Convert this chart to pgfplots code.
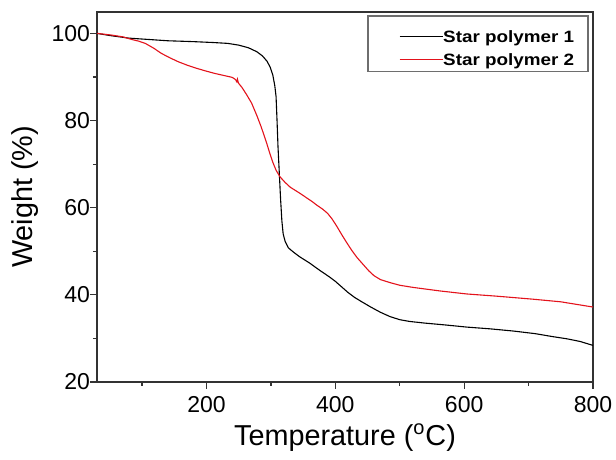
\documentclass[border=0pt]{standalone}
\usepackage{fontspec}
\setmainfont{Liberation Sans}
\newfontfamily\legfont[FakeStretch=1.15]{Liberation Sans}
\usepackage{pgfplots}
\pgfplotsset{compat=1.18}
\usepackage{pgfplotstable}

\definecolor{tgaRed}  {HTML}{E3121B}
\definecolor{tgaAxis} {HTML}{333333}
\definecolor{tgaFrame}{HTML}{6E6E6E}

% TGA curves: temperature (C), weight (%)
\pgfplotstableread{
T W
30 100
50 99.5
80 98.9
110 98.6
140 98.3
180 98.1
210 97.9
233 97.7
250 97.3
265 96.7
278 95.8
287 94.8
294 93.6
299 92.2
303 90.4
306 88.0
308 85.5
309.5 80
311 74
313 68
315 62
317 57
319 54
322 52.3
327 50.8
335 49.8
345 48.7
360 47.3
376 45.6
390 44.2
400 43.1
410 41.8
420 40.5
430 39.4
440 38.5
455 37.2
470 36.0
485 35.0
500 34.3
515 33.9
540 33.5
570 33.1
604 32.6
640 32.2
676 31.7
710 31.1
738 30.4
760 29.9
780 29.3
800 28.4
}\starone

\pgfplotstableread{
T W
30 100
53 99.6
70 99.2
84 98.6
95 98.2
105 97.7
118 96.6
130 95.4
143 94.4
156 93.5
170 92.7
182 92.1
198 91.4
213 90.8
228 90.3
240 89.9
245 89.4
247 88.9
248 89.5
249.5 88.6
255 87.6
262 86.0
270 84.0
278 81.2
285 78.5
293 75.0
298 72.6
303 70.4
308 68.6
314 67.1
322 65.8
330 64.7
345 63.3
356 62.2
364 61.4
372 60.5
380 59.7
388 58.7
395 57.4
402 55.8
410 53.8
418 51.9
426 50.1
434 48.5
443 47.0
452 45.5
460 44.4
470 43.5
485 42.8
500 42.2
521 41.7
562 40.9
604 40.2
650 39.7
707 39.0
750 38.4
800 37.2
}\startwo

\begin{document}
\begin{tikzpicture}
\path[use as bounding box] (-48.5pt,-39pt) rectangle (259.5pt,191pt);
\begin{axis}[
  scale only axis, width=248pt, height=185pt,
  xmin=30, xmax=800, ymin=20, ymax=104.9,
  xtick={200,400,600,800}, minor xtick={100,300,500,700},
  ytick={20,40,60,80,100}, minor ytick={30,50,70,90},
  xtick pos=bottom, ytick pos=left, tick align=outside,
  major tick length=3.5pt, minor tick length=2pt,
  axis line style={tgaAxis,line width=0.6pt},
  tick style={tgaAxis,line width=0.6pt},
  /pgf/number format/assume math mode=true,
  tick label style={font=\fontsize{11.5}{13}\selectfont},
  yticklabel style={xshift=3.5pt},
  label style={font=\fontsize{14.4}{17}\selectfont},
  xlabel={Temperature (\textsuperscript{o}C)},
  ylabel={Weight (\%)},
  xlabel style={at={(axis description cs:0.5,-0.1703)},anchor=base},
  ylabel style={at={(axis description cs:-0.131,0.5)},anchor=base},
  legend style={draw=white,fill=none,line width=0.1pt,
    at={(axis description cs:0.6089,0.9495)},
    anchor=north west,inner sep=0pt,row sep=5.5pt,column sep=0pt,
    nodes={inner sep=0pt,text height=5.85pt,text depth=0pt,
      font=\legfont\bfseries\fontsize{8.2}{9}\selectfont}},
  legend image code/.code={\draw[mark repeat=2,mark phase=2,#1]
    plot coordinates {(0pt,0pt) (10.75pt,0pt) (21.5pt,0pt)};},
  legend cell align=left,
]
\addplot[black,line width=0.55pt] table[x=T,y=W] {\starone};
\addlegendentry{Star polymer 1}
\addplot[tgaRed,line width=0.55pt] table[x=T,y=W] {\startwo};
\addlegendentry{Star polymer 2}
\draw[tgaFrame,line width=0.6pt] (axis description cs:0.5464,0.9892)
  rectangle (axis description cs:0.9899,0.8386);
\end{axis}
\end{tikzpicture}
\end{document}
